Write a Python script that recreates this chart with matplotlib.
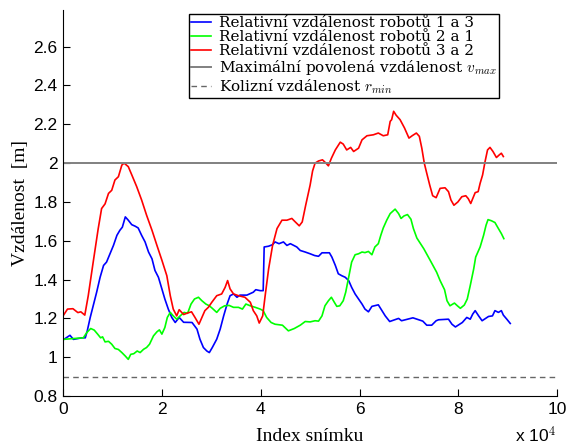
import numpy as np
import matplotlib
matplotlib.use('Agg')
from matplotlib import pyplot as plt
from matplotlib.ticker import FuncFormatter

# frame index (in units of 1e4 frames) and relative distances between robots [m]
x13 = [0.0, 0.14, 0.21, 0.38, 0.45, 0.49, 0.55, 0.61, 0.68, 0.75, 0.82, 0.88, 0.95, 1.02, 1.09, 1.15,
       1.20, 1.26, 1.32, 1.39, 1.46, 1.52, 1.59, 1.66, 1.73, 1.80, 1.86, 1.93, 2.00, 2.06, 2.13, 2.20,
       2.27, 2.35, 2.44, 2.61, 2.71, 2.77, 2.84, 2.91, 2.96, 3.02, 3.11, 3.18, 3.25, 3.32, 3.38, 3.45,
       3.52, 3.58, 3.72, 3.85, 3.90, 3.99, 4.05, 4.07, 4.16, 4.24, 4.29, 4.37, 4.46, 4.53, 4.60, 4.73,
       4.80, 4.90, 5.00, 5.09, 5.17, 5.24, 5.39, 5.44, 5.51, 5.57, 5.64, 5.71, 5.78, 5.84, 5.91, 5.98,
       6.05, 6.11, 6.18, 6.25, 6.38, 6.52, 6.61, 6.79, 6.85, 7.08, 7.28, 7.36, 7.46, 7.55, 7.60, 7.80,
       7.87, 7.94, 8.08, 8.17, 8.24, 8.29, 8.34, 8.41, 8.48, 8.61, 8.69, 8.74, 8.81, 8.87, 8.91, 8.98,
       9.05]
d13 = [1.089, 1.113, 1.092, 1.100, 1.100, 1.136, 1.205, 1.265, 1.335, 1.412, 1.473, 1.490, 1.533, 1.576,
       1.628, 1.654, 1.670, 1.723, 1.706, 1.683, 1.675, 1.666, 1.628, 1.594, 1.542, 1.507, 1.447, 1.412,
       1.352, 1.300, 1.248, 1.205, 1.179, 1.205, 1.180, 1.179, 1.145, 1.093, 1.050, 1.032, 1.024, 1.050,
       1.093, 1.145, 1.213, 1.274, 1.317, 1.326, 1.309, 1.320, 1.320, 1.335, 1.348, 1.343, 1.343, 1.568,
       1.572, 1.580, 1.594, 1.585, 1.594, 1.576, 1.585, 1.568, 1.550, 1.542, 1.533, 1.524, 1.520, 1.538,
       1.538, 1.516, 1.473, 1.430, 1.420, 1.412, 1.395, 1.360, 1.326, 1.300, 1.274, 1.248, 1.234, 1.262,
       1.270, 1.213, 1.184, 1.200, 1.188, 1.203, 1.186, 1.165, 1.165, 1.188, 1.193, 1.196, 1.170, 1.156,
       1.179, 1.205, 1.196, 1.222, 1.240, 1.213, 1.188, 1.210, 1.213, 1.240, 1.231, 1.240, 1.217, 1.196,
       1.174]

x21 = [0.0, 0.41, 0.48, 0.56, 0.63, 0.70, 0.76, 0.80, 0.85, 0.92, 0.985, 1.05, 1.12, 1.19, 1.26, 1.32,
       1.37, 1.43, 1.50, 1.56, 1.63, 1.69, 1.75, 1.83, 1.90, 1.95, 2.00, 2.06, 2.11, 2.17, 2.23, 2.30,
       2.37, 2.45, 2.52, 2.59, 2.66, 2.74, 2.81, 2.89, 2.96, 3.02, 3.11, 3.18, 3.27, 3.36, 3.45, 3.55,
       3.63, 3.70, 3.79, 3.89, 3.99, 4.05, 4.12, 4.21, 4.29, 4.44, 4.56, 4.68, 4.80, 4.90, 5.00, 5.10,
       5.17, 5.24, 5.30, 5.37, 5.43, 5.49, 5.54, 5.60, 5.67, 5.72, 5.78, 5.84, 5.91, 5.98, 6.05, 6.11,
       6.18, 6.25, 6.31, 6.38, 6.43, 6.48, 6.55, 6.62, 6.72, 6.79, 6.84, 6.90, 6.97, 7.04, 7.09, 7.16,
       7.30, 7.43, 7.56, 7.63, 7.72, 7.77, 7.83, 7.92, 7.98, 8.04, 8.12, 8.18, 8.24, 8.31, 8.35, 8.44,
       8.51, 8.56, 8.60, 8.67, 8.74, 8.81, 8.87, 8.92]
d21 = [1.092, 1.100, 1.127, 1.148, 1.140, 1.119, 1.100, 1.105, 1.079, 1.082, 1.067, 1.045, 1.040, 1.024,
       1.006, 0.989, 1.015, 1.018, 1.032, 1.024, 1.041, 1.050, 1.067, 1.110, 1.131, 1.141, 1.119, 1.153,
       1.205, 1.231, 1.213, 1.196, 1.213, 1.231, 1.226, 1.274, 1.300, 1.309, 1.291, 1.274, 1.265, 1.252,
       1.231, 1.252, 1.265, 1.267, 1.257, 1.257, 1.248, 1.274, 1.265, 1.257, 1.248, 1.240, 1.205, 1.179,
       1.170, 1.165, 1.136, 1.148, 1.165, 1.184, 1.182, 1.188, 1.186, 1.213, 1.265, 1.291, 1.309, 1.283,
       1.262, 1.265, 1.291, 1.335, 1.412, 1.490, 1.528, 1.533, 1.542, 1.539, 1.545, 1.528, 1.568, 1.585,
       1.628, 1.666, 1.706, 1.740, 1.763, 1.740, 1.715, 1.728, 1.735, 1.711, 1.663, 1.614, 1.559, 1.499,
       1.438, 1.395, 1.348, 1.291, 1.265, 1.279, 1.265, 1.252, 1.269, 1.300, 1.369, 1.455, 1.516, 1.568,
       1.628, 1.680, 1.709, 1.703, 1.694, 1.663, 1.637, 1.611]

x32 = [0.0, 0.09, 0.20, 0.30, 0.36, 0.44, 0.51, 0.61, 0.71, 0.78, 0.85, 0.92, 0.985, 1.05, 1.12, 1.19,
       1.235, 1.32, 1.39, 1.49, 1.59, 1.69, 1.80, 1.90, 2.00, 2.10, 2.17, 2.23, 2.30, 2.35, 2.44, 2.52,
       2.60, 2.67, 2.75, 2.81, 2.87, 2.94, 3.01, 3.11, 3.21, 3.28, 3.33, 3.38, 3.45, 3.55, 3.68, 3.79,
       3.85, 3.92, 3.97, 4.04, 4.09, 4.16, 4.24, 4.33, 4.43, 4.53, 4.63, 4.70, 4.78, 4.84, 4.91, 5.00,
       5.05, 5.10, 5.17, 5.25, 5.32, 5.37, 5.43, 5.51, 5.61, 5.67, 5.74, 5.82, 5.88, 5.98, 6.05, 6.15,
       6.28, 6.38, 6.48, 6.57, 6.62, 6.65, 6.69, 6.74, 6.82, 6.91, 7.00, 7.07, 7.15, 7.21, 7.26, 7.31,
       7.36, 7.42, 7.48, 7.55, 7.63, 7.73, 7.80, 7.85, 7.91, 7.99, 8.07, 8.15, 8.20, 8.25, 8.29, 8.34,
       8.40, 8.44, 8.49, 8.54, 8.59, 8.64, 8.70, 8.77, 8.83, 8.87, 8.91]
d32 = [1.213, 1.248, 1.250, 1.230, 1.234, 1.217, 1.317, 1.490, 1.660, 1.766, 1.790, 1.844, 1.860, 1.913,
       1.930, 1.990, 2.000, 1.982, 1.940, 1.879, 1.810, 1.732, 1.654, 1.576, 1.500, 1.420, 1.317, 1.248,
       1.213, 1.245, 1.220, 1.228, 1.234, 1.205, 1.170, 1.205, 1.240, 1.257, 1.283, 1.317, 1.326, 1.360,
       1.395, 1.352, 1.326, 1.317, 1.309, 1.283, 1.240, 1.213, 1.176, 1.213, 1.317, 1.455, 1.576, 1.663,
       1.706, 1.706, 1.715, 1.697, 1.677, 1.697, 1.783, 1.887, 1.960, 2.000, 2.011, 2.017, 2.000, 1.986,
       2.025, 2.068, 2.108, 2.098, 2.068, 2.081, 2.060, 2.077, 2.120, 2.141, 2.146, 2.155, 2.141, 2.146,
       2.215, 2.224, 2.267, 2.247, 2.224, 2.181, 2.129, 2.142, 2.155, 2.138, 2.077, 2.000, 1.948, 1.887,
       1.832, 1.822, 1.870, 1.873, 1.853, 1.810, 1.783, 1.800, 1.827, 1.832, 1.817, 1.792, 1.817, 1.848,
       1.853, 1.896, 1.939, 2.008, 2.068, 2.081, 2.060, 2.029, 2.043, 2.051, 2.034]

v_max = 2.0   # maximum allowed distance
r_min = 0.9   # collision distance

labels = ['Relativní vzdálenost robotů 1 a 3',
          'Relativní vzdálenost robotů 2 a 1',
          'Relativní vzdálenost robotů 3 a 2',
          r'Maximální povolená vzdálenost $v_{max}$',
          r'Kolizní vzdálenost $r_{min}$']

serif = 'Liberation Serif'
plt.rcParams['mathtext.fontset'] = 'cm'
plt.rcParams['font.family'] = 'Liberation Sans'

fig = plt.figure(figsize=(5.68, 4.45), dpi=100, facecolor='w')
ax = fig.add_axes([0.111, 0.110, 0.870, 0.868])

ax.plot(np.array(x13) * 1e4, d13, color=(0, 0, 1), lw=1.2, label=labels[0])
ax.plot(np.array(x21) * 1e4, d21, color=(0, 1, 0), lw=1.2, label=labels[1])
ax.plot(np.array(x32) * 1e4, d32, color=(1, 0, 0), lw=1.2, label=labels[2])
ax.axhline(v_max, color='0.5', lw=1.4, label=labels[3])
ax.axhline(r_min, color='0.4', lw=1.0, ls=(0, (4, 3)), label=labels[4])

ax.set_xlim(0, 10e4)
ax.set_ylim(0.8, 2.79)
ax.set_xticks(np.arange(0, 10.1, 2) * 1e4)
ax.set_yticks(np.arange(0.8, 2.61, 0.2))
ax.xaxis.set_major_formatter(FuncFormatter(lambda v, p: '%g' % (v / 1e4)))
ax.yaxis.set_major_formatter(FuncFormatter(lambda v, p: '%g' % round(v, 1)))
ax.tick_params(direction='in', length=5, width=0.8, labelsize=12.5, pad=4)
for s in ['top', 'right']:
    ax.spines[s].set_visible(False)

ax.set_xlabel('Index snímku', family=serif, fontsize=14, labelpad=8)
ax.set_ylabel('Vzdálenost  [m]', family=serif, fontsize=14, labelpad=3)
fig.text(0.906, 0.006, r'x 10$^{\mathsf{4}}$', fontsize=12.5)

leg = ax.legend(loc='upper left', bbox_to_anchor=(0.255, 0.99), prop={'family': 'DejaVu Serif', 'size': 11},
                frameon=True, fancybox=False, framealpha=1, edgecolor='k', labelspacing=0.0,
                handlelength=1.3, handletextpad=0.5, borderpad=0.15, borderaxespad=0)
leg.get_frame().set_linewidth(1.0)

fig.savefig('out.png', dpi=100)
